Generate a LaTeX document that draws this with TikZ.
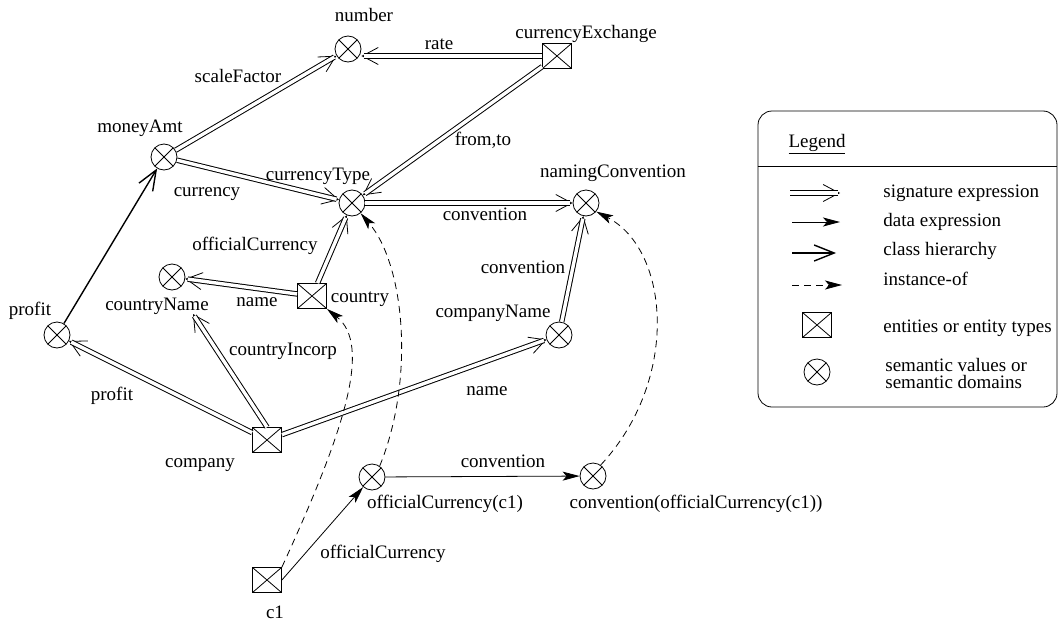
\documentclass[tikz,border=0pt]{standalone}
\usepackage{fontspec}
\setmainfont{Liberation Serif}
\usetikzlibrary{arrows.meta}
\tikzset{
  xcross/.style={path picture={\draw (path picture bounding box.north west) -- (path picture bounding box.south east)
      (path picture bounding box.north east) -- (path picture bounding box.south west);}},
  val/.style={circle, draw, minimum size=26pt, inner sep=0pt, xcross},
  ent/.style={rectangle, draw, minimum width=29pt, minimum height=25pt, inner sep=0pt, xcross},
  lbl/.style={inner sep=0pt, text height=13pt, text depth=4pt},
  sigtip/.style={-{Straight Barb[length=16pt,width=17pt,line width=0.8pt]}},
  sigline/.style={double, line width=1pt, double distance=3.4pt, shorten >=2.5pt},
  data/.style={-{Stealth[length=17pt,width=9pt,inset=4pt]}},
  inst/.style={data, dash pattern=on 7pt off 5pt},
  isa/.style={line width=1.4pt, -{Straight Barb[length=20pt,width=16pt]}},
}
\begin{document}
\begin{tikzpicture}[x=1pt, y=-1pt, line width=0.8pt, font=\fontsize{19}{21}\selectfont]
\useasboundingbox (0,0) rectangle (1059,621);
% nodes
\node[val] (num) at (348,49) {};
\node[lbl] (numL) at (364,17) {number};
\node[ent] (cx) at (557,56) {};
\node[lbl] (cxL) at (586,34) {currencyExchange};
\node[val] (ma) at (164,157) {};
\node[lbl] (maL) at (140,128) {moneyAmt};
\node[val] (ct) at (352,203) {};
\node[lbl] (ctL) at (318,176) {currencyType};
\node[val] (nc) at (586,203) {};
\node[lbl] (ncL) at (613,173) {namingConvention};
\node[val] (cn) at (172,277) {};
\node[lbl] (cnL) at (157,306) {countryName};
\node[ent] (co) at (312,296) {};
\node[lbl] (coL) at (360,298) {country};
\node[val] (cmn) at (559,335) {};
\node[lbl] (cmnL) at (493,313) {companyName};
\node[val] (pr) at (57,335) {};
\node[lbl] (prL) at (30,311) {profit};
\node[ent] (cmp) at (267,440) {};
\node[lbl] (cmpL) at (200,463) {company};
\node[val] (oc) at (372,477) {};
\node[lbl] (ocL) at (445,504) {officialCurrency(c1)};
\node[val] (coc) at (593,476) {};
\node[lbl] (cocL) at (696,504) {convention(officialCurrency(c1))};
\node[ent] (c1) at (267,580) {};
\node[lbl] (c1L) at (275,614) {c1};
\coordinate (cnA) at (193,314);
% edge labels
\node[lbl] (lScale) at (238,78) {scaleFactor};
\node[lbl] (lRate) at (439,45) {rate};
\node[lbl] (lFrom) at (483,141) {from,to};
\node[lbl] (lCur) at (207,192) {currency};
\node[lbl] (lConv1) at (485,216) {convention};
\node[lbl] (lOff) at (255,246) {officialCurrency};
\node[lbl] (lName1) at (257,302) {name};
\node[lbl] (lConv2) at (523,269) {convention};
\node[lbl] (lProf) at (112,396) {profit};
\node[lbl] (lInc) at (283,351) {countryIncorp};
\node[lbl] (lName2) at (487,391) {name};
\node[lbl] (lConv3) at (503,463) {convention};
\node[lbl] (lOff2) at (383,554) {officialCurrency};
% signature expressions
\draw[sigtip] (ma) -- (num);   \draw[sigline] (ma) -- (num);
\draw[sigtip] (cx.west) -- (num.east |- cx.west); \draw[sigline] (cx.west) -- (num.east |- cx.west);
\draw[sigtip] (ma) -- (ct);    \draw[sigline] (ma) -- (ct);
\draw[sigtip] (cx) -- (ct);    \draw[sigline] (cx) -- (ct);
\draw[sigtip] (ct) -- (nc);    \draw[sigline] (ct) -- (nc);
\draw[sigtip] (co) -- (ct);    \draw[sigline] (co) -- (ct);
\draw[sigtip] (co) -- (cn);    \draw[sigline] (co) -- (cn);
\draw[sigtip] (cmp.north) -- (cnA); \draw[sigline] (cmp.north) -- (cnA);
\draw[sigtip] (cmp) -- (pr);   \draw[sigline] (cmp) -- (pr);
\draw[sigtip] (cmp) -- (cmn);  \draw[sigline] (cmp) -- (cmn);
\draw[sigtip] (cmn) -- (nc);   \draw[sigline] (cmn) -- (nc);
% class hierarchy
\draw[isa] (pr) -- (ma);
% data expressions
\draw[data] (c1.east) -- (oc);
\draw[data] (oc) -- (coc);
% instance-of
\draw[inst] (c1.north east) .. controls (345,430) and (372,345) .. (co.south east);
\draw[inst] (oc.55) .. controls (415,380) and (405,265) .. (ct.-50);
\draw[inst] (coc.55) .. controls (680,380) and (670,250) .. (nc.-40);
% legend
\node[draw, rounded corners=14pt, minimum width=299pt, minimum height=296pt, inner sep=0pt] (lg) at (907.5,259) {};
\node[lbl] (lgT) at (817,143) {\underline{Legend}};
\coordinate (sepy) at (0,166);
\draw (lg.west |- sepy) -- (lg.east |- sepy);
\coordinate (la1) at (790,193); \coordinate (lb1) at (840,193);
\coordinate (la2) at (792,222); \coordinate (lb2) at (840,222);
\coordinate (la3) at (792,253); \coordinate (lb3) at (836,253);
\coordinate (la4) at (792,285); \coordinate (lb4) at (842,285);
\draw[sigtip] (la1) -- (lb1); \draw[sigline] (la1) -- (lb1);
\draw[data] (la2) -- (lb2);
\draw[isa] (la3) -- (lb3);
\draw[inst] (la4) -- (lb4);
\node[ent] (lgE) at (817,325) {};
\node[val] (lgV) at (817,372) {};
\node[lbl, anchor=west] (t1) at (883,193) {signature expression};
\node[lbl, anchor=west] (t2) at (883,222) {data expression};
\node[lbl, anchor=west] (t3) at (883,251) {class hierarchy};
\node[lbl, anchor=west] (t4) at (883,281) {instance-of};
\node[lbl, anchor=west] (t5) at (883,328) {entities or entity types};
\node[lbl, anchor=west] (t6a) at (885,367) {semantic values or};
\node[lbl, anchor=west] (t6b) at (885,384) {semantic domains};
\end{tikzpicture}
\end{document}
